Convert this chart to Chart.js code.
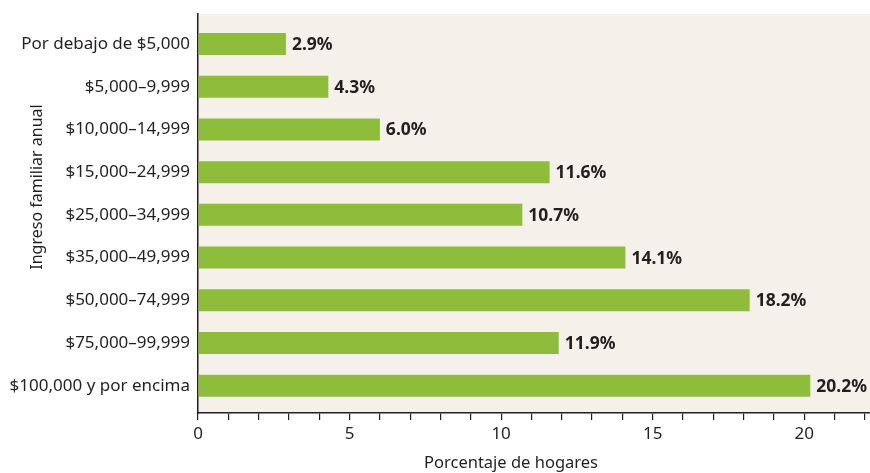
<!DOCTYPE html>
<html><head><meta charset="utf-8">
<script src="https://cdn.jsdelivr.net/npm/chart.js@4"></script>
<style>html,body{margin:0;padding:0;background:#fff}#w{width:870px;height:473px}</style>
</head><body><div id="w"><canvas id="c"></canvas></div>
<script>
const categories = ["Por debajo de $5,000","$5,000–9,999","$10,000–14,999","$15,000–24,999","$25,000–34,999","$35,000–49,999","$50,000–74,999","$75,000–99,999","$100,000 y por encima"];
const values = [2.9,4.3,6.0,11.6,10.7,14.1,18.2,11.9,20.2];
const labels = ["2.9%","4.3%","6.0%","11.6%","10.7%","14.1%","18.2%","11.9%","20.2%"];
const xTicks = [0,1,2,3,4,5,6,7,8,9,10,11,12,13,14,15,16,17,18,19,20,21,22];
const xTickLabels = {0:"0",5:"5",10:"10",15:"15",20:"20"};
const xTitle = "Porcentaje de hogares";
const yTitle = "Ingreso familiar anual";
const FONT = "'Noto Sans', sans-serif";
const DARK = "#231f20";

const plugin = {
  id:'custom',
  beforeDraw(chart){
    const {ctx, chartArea:a} = chart;
    ctx.save(); ctx.fillStyle = '#f5f1ea'; ctx.fillRect(a.left, a.top, a.right-a.left, a.bottom-a.top); ctx.restore();
  },
  afterDatasetsDraw(chart){
    const {ctx} = chart;
    const meta = chart.getDatasetMeta(0);
    ctx.save();
    ctx.font = "bold 17.5px " + FONT; ctx.fillStyle = DARK; ctx.textBaseline='middle'; ctx.textAlign='left';
    meta.data.forEach((b,i)=>{ ctx.fillText(labels[i], b.x+6, b.y+1); });
    ctx.font = "16.5px " + FONT;
    ctx.textAlign='center';
    ctx.fillText(xTitle, 511, 463);
    ctx.font = "16px " + FONT;
    ctx.translate(37, 187); ctx.rotate(-Math.PI/2);
    ctx.fillText(yTitle, 0, 0);
    ctx.restore();
  }
};

new Chart(document.getElementById('c'), {
  type:'bar',
  data:{datasets:[{data:values.map((v,i)=>({x:v,y:i})), backgroundColor:'#8dbd3b', barPercentage:0.515, categoryPercentage:1}]},
  options:{
    indexAxis:'y', responsive:true, maintainAspectRatio:false, animation:false,
    layout:{padding:{top:14,right:0,left:0,bottom:0}},
    plugins:{legend:{display:false}, tooltip:{enabled:false}},
    scales:{
      x:{type:'linear', min:0, max:22.17, offset:false,
        afterBuildTicks(s){ s.ticks = xTicks.map(v=>({value:v})); },
        afterFit(s){ s.height = 60; s.paddingLeft = 0; s.paddingRight = 0; },
        ticks:{autoSkip:false, maxRotation:0, color:DARK, font:{family:FONT,size:17}, padding:4,
          callback:(v)=> xTickLabels[v] !== undefined ? xTickLabels[v] : ''},
        grid:{drawOnChartArea:false, drawTicks:true, tickLength:7, color:DARK, lineWidth:1.2},
        border:{display:true,color:DARK,width:1.5}
      },
      y:{type:'linear', reverse:true, min:-0.703, max:8.64, offset:false, bounds:'data',
        afterBuildTicks(s){ s.ticks = categories.map((c,i)=>({value:i})); },
        afterFit(s){ s.width = 198; s.paddingTop = 0; s.paddingBottom = 0; },
        ticks:{autoSkip:false, color:DARK, font:{family:FONT,size:17}, padding:8,
          callback:(v)=> categories[v] !== undefined ? categories[v] : ''},
        grid:{display:false, drawTicks:false, offset:false},
        border:{display:true,color:DARK,width:1.5}
      }
    }
  },
  plugins:[plugin]
});
</script></body></html>
